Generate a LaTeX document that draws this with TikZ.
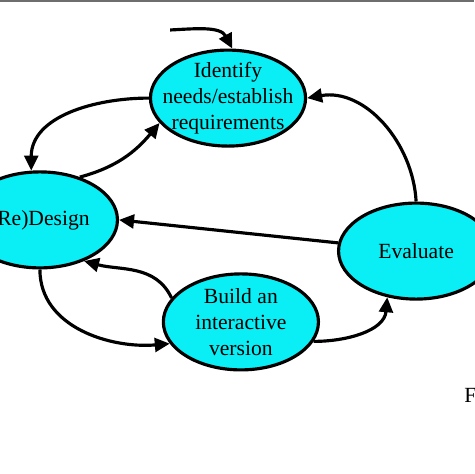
\documentclass[tikz,border=0pt]{standalone}
\usepackage{fontspec}
\setmainfont{Liberation Serif}
\usetikzlibrary{shapes.geometric,arrows.meta,positioning}
\definecolor{stagefill}{RGB}{10,238,245}
\definecolor{topbar}{RGB}{110,110,110}

\begin{document}
\begin{tikzpicture}[
  stage/.style={ellipse, draw, line width=3pt, fill=stagefill,
    inner xsep=-1cm, inner ysep=-0.8cm,
    minimum width=5.17cm, minimum height=3.2cm,
    align=center, font=\fontsize{20.5}{24.5}\selectfont},
  flow/.style={line width=3pt, -{Triangle[length=0.5cm,width=0.46cm]}}
]

% Frame
\useasboundingbox (0,0) rectangle (15.8,15.8);
\fill[topbar] (0,15.73) rectangle (15.8,15.8);

% Stages
\node[stage] (identify) at (7.6,12.53) {Identify\\needs/establish\\requirements};
\node[stage] (design) at (1.33,8.47) {(Re)Design};
\node[stage] (evaluate) at (13.87,7.43) {Evaluate};
\node[stage] (build) at (8.03,5.07) {Build an\\interactive\\version};

% Entry point
\coordinate (start) at (5.67,14.8);
\draw[flow] (start) to[out=3,in=118] (identify.85);

% Links between stages
\draw[flow] (identify.west) to[out=180,in=90] (design.100);
\draw[flow] (design.47) to[out=15,in=230] (identify.200);
\draw[flow] (evaluate.north) to[out=93,in=10] (identify.east);
\draw[flow] (evaluate.174) -- (design.east);
\draw[flow] (build.161) to[out=115,in=-15] (design.317);
\draw[flow] (design.south) to[out=-90,in=185] (build.197);
\draw[flow] (build.-15) to[out=0,in=-95] (evaluate.238);

% Caption (cut off)
\node[anchor=base west, font=\fontsize{20.5}{24.5}\selectfont, inner sep=0pt] (caption) at (15.47,2.37) {F};

\end{tikzpicture}
\end{document}
